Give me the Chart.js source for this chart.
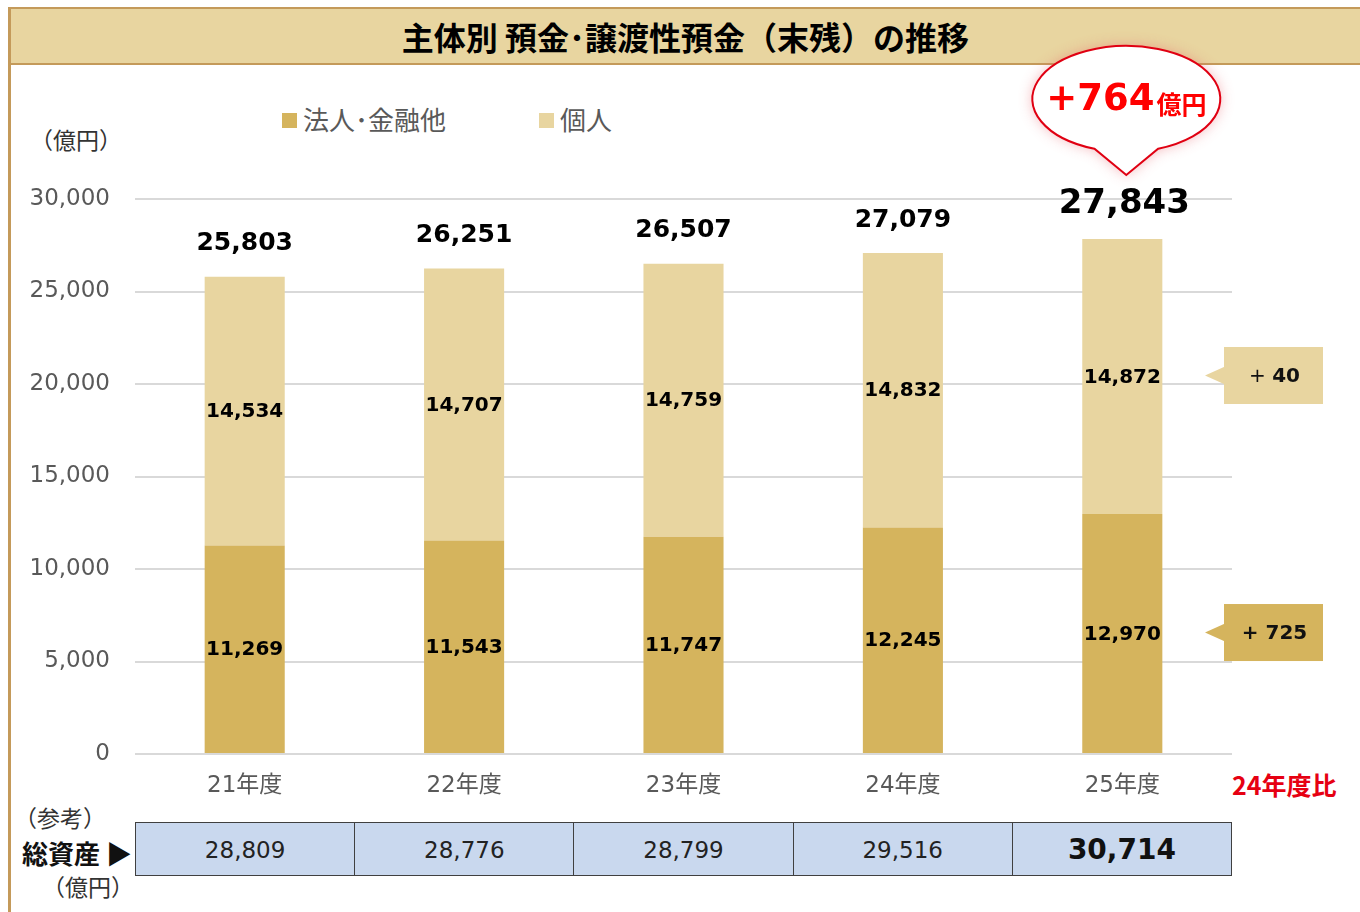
<!DOCTYPE html>
<html>
<head>
<meta charset="utf-8">
<script src="https://cdn.jsdelivr.net/npm/chart.js@4"></script>
<style>
  body { margin: 0; width: 1360px; height: 912px; position: relative; overflow: hidden; background: #fff;
         font-family: "DejaVu Sans", "Noto Sans CJK JP", sans-serif; }
  .abs { position: absolute; }
  #frame { left: 8px; top: 7px; width: 3px; height: 905px; background: #C49A5A; }
  #title { left: 11px; top: 7px; right: 0; height: 54px; background: #E8D5A0;
           border-top: 2px solid #C49A5A; border-bottom: 2px solid #C49A5A;
           text-align: center; font: bold 32px "Noto Sans CJK JP"; line-height: 54px; color: #000; }
  .cjk { font-family: "Noto Sans CJK JP", sans-serif; }
  .legend { top: 102px; font-size: 26px; color: #595959; line-height: 34px; }
  .legend i { display: inline-block; width: 15px; height: 15px; margin-right: 6px; vertical-align: 2px; }
  #wrap { left: 0; top: 0; width: 1360px; height: 912px; z-index: 2; }
  #assets { left: 135px; top: 822px; width: 1095px; height: 52px; border: 1.5px solid #404040;
            background: #C9D8EE; display: flex; z-index: 1; }
  #assets div { flex: 1; text-align: center; line-height: 54px; font-size: 23px; color: #222;
                border-left: 1.5px solid #404040; }
  #assets div:first-child { border-left: none; }
  #assets div.last { font-weight: bold; font-size: 28px; color: #111; }
</style>
</head>
<body>
<div id="frame" class="abs"></div>
<div id="title" class="abs">主体別 預金･譲渡性預金（末残）の推移</div>
<div class="abs legend cjk" style="left:282px"><i style="background:#D5B45D"></i>法人･金融他</div>
<div class="abs legend cjk" style="left:539px"><i style="background:#E8D5A0"></i>個人</div>
<div class="abs cjk" style="left:30px;top:122px;font-size:23px;color:#333">（億円）</div>
<div class="abs cjk" style="left:1232px;top:766px;font-size:25px;font-weight:bold;color:#E60012">24年度比</div>
<div class="abs cjk" style="left:14px;top:800px;font-size:23px;color:#333">（参考）</div>
<div class="abs cjk" style="left:22px;top:834px;font-size:26px;font-weight:bold;color:#111">総資産 ▶</div>
<div class="abs cjk" style="left:42px;top:869px;font-size:23px;color:#333">（億円）</div>
<div id="assets" class="abs"></div>
<div id="wrap" class="abs"><canvas id="chart"></canvas></div>

<script>
const years = ["21年度", "22年度", "23年度", "24年度", "25年度"];
const corporate = [11269, 11543, 11747, 12245, 12970];
const individual = [14534, 14707, 14759, 14832, 14872];
const totals = [25803, 26251, 26507, 27079, 27843];
const totalAssets = [28809, 28776, 28799, 29516, 30714];
const yMax = 30000;
const yStep = 5000;

const DARK = "#D5B45D";
const LIGHT = "#E8D5A0";
const NUM_FONT = '"DejaVu Sans", "Noto Sans CJK JP", sans-serif';

// table of total assets under the chart
const assetsBox = document.getElementById("assets");
totalAssets.forEach((v, i) => {
    const cell = document.createElement("div");
    cell.textContent = v.toLocaleString("en-US");
    if (i === totalAssets.length - 1) cell.className = "last";
    assetsBox.appendChild(cell);
});

const fmt = v => v.toLocaleString("en-US");

const labelPlugin = {
    id: "labels",
    afterDatasetsDraw(chart) {
        const ctx = chart.ctx;
        const metaLow = chart.getDatasetMeta(0);
        const metaHigh = chart.getDatasetMeta(1);
        const last = years.length - 1;
        ctx.save();
        ctx.textAlign = "center";
        ctx.textBaseline = "middle";
        ctx.fillStyle = "#000";

        // values inside segments
        ctx.font = "bold 20px " + NUM_FONT;
        [metaLow, metaHigh].forEach((meta, d) => {
            const data = d === 0 ? corporate : individual;
            meta.data.forEach((bar, i) => {
                ctx.fillText(fmt(data[i]), bar.x, (bar.y + bar.base) / 2 + 1);
            });
        });

        // totals above the bars
        metaHigh.data.forEach((bar, i) => {
            if (i === last) {
                ctx.font = "bold 34px " + NUM_FONT;
                ctx.fillText(fmt(totals[i]), bar.x + 2, bar.y - 35);
            } else {
                ctx.font = "bold 25px " + NUM_FONT;
                ctx.fillText(fmt(totals[i]), bar.x, bar.y - 33);
            }
        });

        // callout bubble with the yearly change
        const top = metaHigh.data[last];
        const cx = top.x + 4, tipY = top.y - 64, cy = tipY - 76;
        ctx.save();
        ctx.beginPath();
        ctx.ellipse(cx, cy, 94, 53, 0, Math.PI * 0.61, Math.PI * 0.39 + Math.PI * 2, false);
        ctx.lineTo(cx, tipY);
        ctx.closePath();
        ctx.shadowColor = "rgba(230,90,100,0.45)";
        ctx.shadowBlur = 14;
        ctx.fillStyle = "#fff";
        ctx.fill();
        ctx.shadowBlur = 0;
        ctx.shadowColor = "transparent";
        ctx.lineWidth = 2;
        ctx.strokeStyle = "#E00012";
        ctx.stroke();
        ctx.restore();

        const diff = totals[last] - totals[last - 1];
        ctx.fillStyle = "#FF0000";
        ctx.textAlign = "left";
        ctx.font = "bold 37px " + NUM_FONT;
        const main = "+" + diff;
        const w1 = ctx.measureText(main).width;
        ctx.font = 'bold 25px "Noto Sans CJK JP", sans-serif';
        const w2 = ctx.measureText("億円").width;
        let sx = cx - (w1 + w2 + 2) / 2;
        ctx.font = "bold 37px " + NUM_FONT;
        ctx.fillText(main, sx, cy + 1);
        ctx.font = 'bold 25px "Noto Sans CJK JP", sans-serif';
        ctx.fillText("億円", sx + w1 + 2, cy + 6);

        // side boxes with segment changes
        const area = chart.chartArea;
        const boxes = [
            { meta: metaHigh, color: LIGHT, diff: individual[last] - individual[last - 1], boldPlus: false },
            { meta: metaLow, color: DARK, diff: corporate[last] - corporate[last - 1], boldPlus: true }
        ];
        boxes.forEach(b => {
            const bar = b.meta.data[last];
            const my = (bar.y + bar.base) / 2 - 1;
            const bx = area.right - 8, bw = 99, bh = 57;
            ctx.fillStyle = b.color;
            ctx.fillRect(bx, my - bh / 2, bw, bh);
            ctx.beginPath();
            ctx.moveTo(bx + 1, my - 9);
            ctx.lineTo(bx - 19, my);
            ctx.lineTo(bx + 1, my + 9);
            ctx.closePath();
            ctx.fill();

            ctx.fillStyle = "#111";
            ctx.textBaseline = "middle";
            const plusFont = (b.boldPlus ? "bold " : "") + "20px " + NUM_FONT;
            const numFont = "bold 20px " + NUM_FONT;
            ctx.font = plusFont;
            const pw = ctx.measureText("+ ").width;
            ctx.font = numFont;
            const nw = ctx.measureText(String(b.diff)).width;
            let tx = bx + bw / 2 + 1 - (pw + nw) / 2;
            ctx.textAlign = "left";
            ctx.font = plusFont;
            ctx.fillText("+ ", tx, my + 1);
            ctx.font = numFont;
            ctx.fillText(String(b.diff), tx + pw, my + 1);
        });
        ctx.restore();
    }
};

new Chart(document.getElementById("chart"), {
    type: "bar",
    data: {
        labels: years,
        datasets: [
            { label: "法人･金融他", data: corporate, backgroundColor: DARK,
              barPercentage: 0.365, categoryPercentage: 1 },
            { label: "個人", data: individual, backgroundColor: LIGHT,
              barPercentage: 0.365, categoryPercentage: 1 }
        ]
    },
    options: {
        responsive: true,
        maintainAspectRatio: false,
        animation: false,
        layout: { padding: { left: 0, top: 199, right: 128, bottom: 98 } },
        plugins: { legend: { display: false }, tooltip: { enabled: false } },
        scales: {
            x: {
                stacked: true,
                grid: { display: false },
                border: { display: false },
                ticks: { color: "#595959", padding: 10, font: { size: 23, family: NUM_FONT } },
                afterFit(scale) { scale.height = 60; }
            },
            y: {
                stacked: true,
                min: 0,
                max: yMax,
                grid: { color: "#D9D9D9", lineWidth: 2, drawTicks: false },
                border: { display: false },
                ticks: {
                    stepSize: yStep,
                    color: "#595959",
                    padding: 25,
                    font: { size: 23, family: NUM_FONT },
                    callback: v => fmt(v)
                },
                afterFit(scale) { scale.width = 135; }
            }
        }
    },
    plugins: [labelPlugin]
});
</script>
</body>
</html>
